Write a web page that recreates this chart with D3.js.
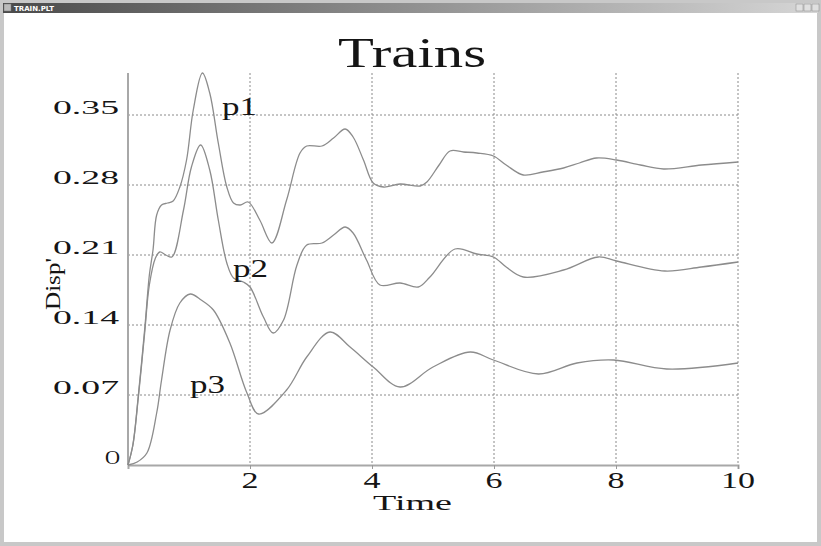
<!DOCTYPE html>
<html>
<head>
<meta charset="utf-8">
<script src="https://cdn.jsdelivr.net/npm/d3@7"></script>
<style>
  body { margin: 0; background: #fff; }
  svg { display: block; }
  text { font-family: "Liberation Serif", "Times New Roman", serif; fill: #151515; }
</style>
</head>
<body>
<div id="chart"></div>
<script>
// Data: [time, displacement]
const p1 = [[0,0],[0.08,0.02],[0.17,0.07],[0.28,0.14],[0.35,0.19],[0.41,0.215],[0.47,0.25],[0.55,0.26],[0.65,0.262],[0.74,0.264],[0.85,0.278],[0.96,0.305],[1.07,0.355],[1.22,0.392],[1.34,0.372],[1.48,0.322],[1.62,0.278],[1.73,0.262],[1.84,0.26],[1.97,0.263],[2.16,0.245],[2.36,0.222],[2.6,0.265],[2.82,0.312],[2.93,0.319],[3.18,0.319],[3.37,0.327],[3.56,0.336],[3.69,0.328],[3.86,0.305],[4.02,0.282],[4.19,0.278],[4.46,0.281],[4.79,0.279],[4.9,0.283],[5.1,0.3],[5.28,0.314],[5.5,0.313],[5.72,0.312],[5.99,0.309],[6.2,0.3],[6.48,0.29],[6.8,0.293],[7.14,0.297],[7.4,0.302],[7.68,0.307],[8.01,0.305],[8.4,0.3],[8.78,0.296],[9.4,0.3],[10,0.303]];
const p2 = [[0,0],[0.08,0.02],[0.17,0.068],[0.27,0.13],[0.35,0.18],[0.45,0.207],[0.52,0.213],[0.62,0.21],[0.72,0.208],[0.91,0.255],[1.04,0.298],[1.19,0.32],[1.34,0.295],[1.48,0.245],[1.62,0.202],[1.73,0.187],[1.89,0.183],[2.0,0.178],[2.22,0.148],[2.38,0.132],[2.55,0.145],[2.77,0.2],[2.93,0.22],[3.18,0.222],[3.37,0.23],[3.56,0.238],[3.69,0.232],[3.91,0.205],[4.13,0.18],[4.46,0.182],[4.76,0.178],[4.95,0.188],[5.36,0.216],[5.72,0.211],[5.99,0.208],[6.2,0.198],[6.48,0.188],[7.14,0.195],[7.71,0.208],[8.01,0.204],[8.8,0.194],[9.4,0.198],[10,0.203]];
const p3 = [[0,0],[0.15,0.003],[0.31,0.012],[0.47,0.052],[0.55,0.085],[0.69,0.135],[0.85,0.162],[1.02,0.171],[1.2,0.165],[1.4,0.155],[1.67,0.122],[1.95,0.072],[2.14,0.051],[2.6,0.075],[2.93,0.108],[3.31,0.133],[3.64,0.118],[4.02,0.098],[4.46,0.078],[5.0,0.098],[5.61,0.113],[5.99,0.105],[6.73,0.091],[7.36,0.102],[7.96,0.105],[8.83,0.096],[10,0.102]];

const seriesNames = ["p1", "p2", "p3"];
const xTicks = [2, 4, 6, 8, 10];
const yTicks = [0, 0.07, 0.14, 0.21, 0.28, 0.35];
const yTickLabels = ["O", "0.07", "0.14", "0.21", "0.28", "0.35"];

const width = 821, height = 546;

const svg = d3.select("#chart").append("svg")
    .attr("width", width)
    .attr("height", height);

// window frame
const defs = svg.append("defs");
const grad = defs.append("linearGradient").attr("id", "titleGrad");
grad.append("stop").attr("offset", "0%").attr("stop-color", "#4a4a4a");
grad.append("stop").attr("offset", "100%").attr("stop-color", "#d6d6d6");

svg.append("rect").attr("width", width).attr("height", height).attr("fill", "#c8c8c8");
svg.append("rect").attr("x", 3).attr("y", 3).attr("width", width - 6).attr("height", 10)
    .attr("fill", "url(#titleGrad)");
svg.append("rect").attr("x", 4).attr("y", 4).attr("width", 7).attr("height", 7)
    .attr("fill", "#bbb").attr("stroke", "#777").attr("stroke-width", 0.5);
svg.append("text").attr("x", 14).attr("y", 11)
    .style("font-family", "DejaVu Sans").style("font-size", "7px").style("font-weight", "bold")
    .style("fill", "#fff").text("TRAIN.PLT");
[796, 804, 812].forEach(bx => {
    svg.append("rect").attr("x", bx).attr("y", 4).attr("width", 7).attr("height", 7)
        .attr("fill", "#e0e0e0").attr("stroke", "#888").attr("stroke-width", 0.5);
});
svg.append("rect").attr("x", 4).attr("y", 13).attr("width", width - 8).attr("height", height - 17)
    .attr("fill", "#fff");

// scales
const x = d3.scaleLinear().domain([0, 10]).range([128, 738]);
const y = d3.scaleLinear().domain([0, 0.392]).range([465, 73]);

// grid
const grid = svg.append("g").attr("stroke", "#8a8a8a").attr("stroke-width", 1)
    .attr("stroke-dasharray", "2,2");
grid.selectAll("line.v").data(xTicks).join("line")
    .attr("x1", d => x(d)).attr("x2", d => x(d))
    .attr("y1", y.range()[1]).attr("y2", y(0));
grid.selectAll("line.h").data(yTicks.slice(1)).join("line")
    .attr("x1", x(0)).attr("x2", x(10))
    .attr("y1", d => y(d)).attr("y2", d => y(d));

// axes lines
const xAxis = d3.axisBottom(x).tickValues(xTicks).tickSize(4).tickFormat("");
svg.append("g").attr("transform", `translate(0,${y(0)})`).call(xAxis)
    .call(g => g.select(".domain").attr("stroke", "#a8a8a8").attr("stroke-width", 2))
    .call(g => g.selectAll(".tick line").attr("stroke", "#999"));
svg.append("line").attr("x1", x(0)).attr("x2", x(0))
    .attr("y1", y(0)).attr("y2", y.range()[1])
    .attr("stroke", "#a8a8a8").attr("stroke-width", 2);

// tick labels
svg.append("g").selectAll("text").data(xTicks).join("text")
    .attr("x", d => x(d)).attr("y", 488)
    .attr("text-anchor", "middle")
    .attr("textLength", d => String(d).length * 17)
    .attr("lengthAdjust", "spacingAndGlyphs")
    .style("font-size", "24px")
    .text(d => d);

svg.append("g").selectAll("text").data(yTicks).join("text")
    .attr("x", d => d === 0 ? 105 : 53).attr("y", d => y(d) - 1)
    .attr("textLength", d => d === 0 ? 15 : 66)
    .attr("lengthAdjust", "spacingAndGlyphs")
    .style("font-size", "18px")
    .text((d, i) => yTickLabels[i]);

// lines
const line = d3.line().x(d => x(d[0])).y(d => y(d[1])).curve(d3.curveCatmullRom.alpha(0.5));
svg.append("g").selectAll("path").data([p1, p2, p3]).join("path")
    .attr("d", line)
    .attr("fill", "none")
    .attr("stroke", "#8c8c8c")
    .attr("stroke-width", 1.3);

// series labels
const labelPos = [[222, 115], [233, 277], [190, 393]];
svg.append("g").selectAll("text").data(seriesNames).join("text")
    .attr("x", (d, i) => labelPos[i][0]).attr("y", (d, i) => labelPos[i][1])
    .attr("textLength", 35)
    .attr("lengthAdjust", "spacingAndGlyphs")
    .style("font-size", "25px")
    .text(d => d);

// title and axis titles
svg.append("text").attr("x", 338).attr("y", 67)
    .attr("textLength", 148).attr("lengthAdjust", "spacingAndGlyphs")
    .style("font-size", "42px").text("Trains");
svg.append("text").attr("x", 373).attr("y", 510)
    .attr("textLength", 79).attr("lengthAdjust", "spacingAndGlyphs")
    .style("font-size", "21px").text("Time");
svg.append("text")
    .attr("transform", "translate(60,310) rotate(-90)")
    .attr("textLength", 52).attr("lengthAdjust", "spacingAndGlyphs")
    .style("font-size", "21px").text("Disp'");
</script>
</body>
</html>
